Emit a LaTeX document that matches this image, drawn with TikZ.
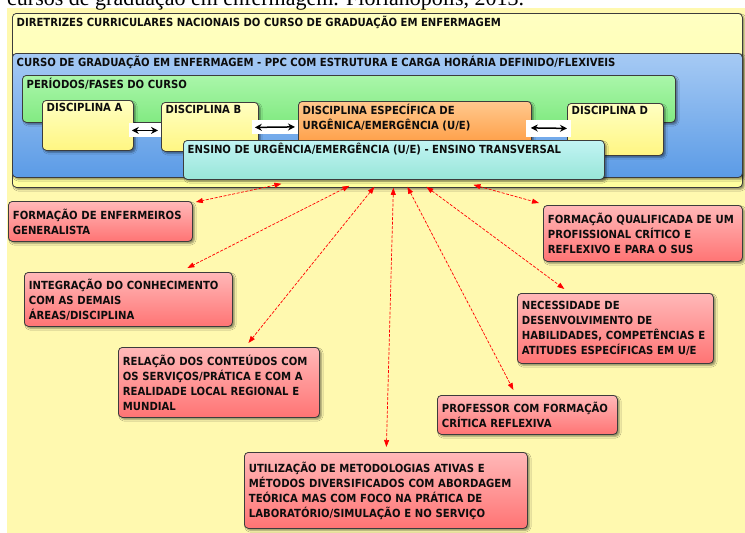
\documentclass[tikz,border=0pt]{standalone}
\usepackage{fontspec}
\usetikzlibrary{arrows.meta,shadows.blur}
\newfontfamily\boxfamily{DejaVu Sans}[FakeStretch=0.9]
\newfontfamily\capfamily{Liberation Serif}
\newcommand\boxfont{\boxfamily\bfseries\fontsize{11.2}{15}\selectfont}
\definecolor{bgyellow}{HTML}{FFF9AF}
\definecolor{boxline}{HTML}{3C3C3C}
\definecolor{dcntop}{HTML}{FFFFC2}
\definecolor{dcnbot}{HTML}{FFFF9E}
\definecolor{ppctop}{HTML}{A6CAF4}
\definecolor{ppcbot}{HTML}{5B9BE6}
\definecolor{fasetop}{HTML}{AAF6AA}
\definecolor{fasebot}{HTML}{82EA82}
\definecolor{disctop}{HTML}{FFFFC2}
\definecolor{discbot}{HTML}{FFF682}
\definecolor{uetop}{HTML}{FFC88E}
\definecolor{uebot}{HTML}{FF9B40}
\definecolor{enstop}{HTML}{C2F4F4}
\definecolor{ensbot}{HTML}{98E6D8}
\definecolor{redtop}{HTML}{FFB8B8}
\definecolor{redbot}{HTML}{FF7474}
\begin{document}
\begin{tikzpicture}[x=1pt, y=-1pt,
    panel/.style={draw=boxline, line width=0.8pt, rounded corners=4pt, anchor=north west, inner sep=0pt,
      blur shadow={shadow xshift=2pt, shadow yshift=-2pt, shadow blur steps=4, shadow opacity=45}},
    toptext/.style={font=\boxfont, text=black!95, anchor=north west, inner xsep=4.5pt, inner ysep=3pt, align=left},
    redbox/.style={panel, top color=redtop, bottom color=redbot, font=\boxfont, text=black!95,
      align=left, inner xsep=4.5pt},
    rlink/.style={red, line width=0.7pt, dash pattern=on 3pt off 1.5pt,
      {Triangle[length=7pt,width=5pt]}-{Triangle[length=7pt,width=5pt]}},
    twoway/.style={line width=1.5pt, {Stealth[length=7pt,width=7pt]}-{Stealth[length=7pt,width=7pt]}},
    wpad/.style={behind path, fill=white, inner sep=0pt, midway}]
  \useasboundingbox (0,0) rectangle (745,533);
  \fill[bgyellow] (7,8) rectangle (745,533);
  \node[anchor=base west, inner sep=0pt, font=\capfamily\fontsize{22}{22}\selectfont] (caption) at (7,5)
    {cursos de graduação em enfermagem. Florianópolis, 2013.};

  % caixas de contexto
  \node[panel, top color=dcntop, bottom color=dcnbot, minimum width=730pt, minimum height=174pt,
    label={[toptext]north west:DIRETRIZES CURRICULARES NACIONAIS DO CURSO DE GRADUAÇÃO EM ENFERMAGEM}] (dcn) at (12,13) {};
  \node[panel, top color=ppctop, bottom color=ppcbot, minimum width=730pt, minimum height=124pt,
    label={[toptext]north west:CURSO DE GRADUAÇÃO EM ENFERMAGEM - PPC COM ESTRUTURA E CARGA HORÁRIA DEFINIDO/FLEXIVEIS}] (ppc) at (12,53) {};
  \node[panel, top color=fasetop, bottom color=fasebot, minimum width=653pt, minimum height=47pt,
    label={[toptext]north west:PERÍODOS/FASES DO CURSO}] (fases) at (22,75) {};

  % disciplinas
  \node[panel, top color=disctop, bottom color=discbot, minimum width=91pt, minimum height=50pt,
    label={[toptext]north west:DISCIPLINA A}] (dA) at (42,100) {};
  \node[panel, top color=disctop, bottom color=discbot, minimum width=97pt, minimum height=49pt,
    label={[toptext]north west:DISCIPLINA B}] (dB) at (161,102) {};
  \node[panel, top color=uetop, bottom color=uebot, minimum width=233pt, minimum height=46pt,
    label={[toptext]north west:{DISCIPLINA ESPECÍFICA DE\\URGÊNICA/EMERGÊNCIA (U/E)}}] (dUE) at (298,101) {};
  \node[panel, top color=disctop, bottom color=discbot, minimum width=96pt, minimum height=52pt,
    label={[toptext]north west:DISCIPLINA D}] (dD) at (567,103) {};

  \draw[twoway] ([shift={(-2,5)}]dA.east) -- node[wpad, minimum width=32pt, minimum height=14pt] {} ([shift={(-3,3.5)}]dB.west);
  \draw[twoway] ([shift={(-4,0.5)}]dB.east) -- node[wpad, minimum width=46pt, minimum height=14pt] {} ([shift={(-3,2.5)}]dUE.west);
  \draw[twoway] ([shift={(-1,3.5)}]dUE.east) -- node[wpad, minimum width=45pt, minimum height=17pt] {} ([shift={(0,-1)}]dD.west);

  \node[panel, top color=enstop, bottom color=ensbot, minimum width=421pt, minimum height=39pt,
    label={[toptext]north west:ENSINO DE URGÊNCIA/EMERGÊNCIA (U/E) - ENSINO TRANSVERSAL}] (ensino) at (183,140) {};

  % caixas vermelhas
  \node[redbox, text width=175pt, minimum height=40pt] (gen) at (8,201)
    {FORMAÇÃO DE ENFERMEIROS\\GENERALISTA};
  \node[redbox, text width=199pt, minimum height=54pt] (integ) at (24,272)
    {INTEGRAÇÃO DO CONHECIMENTO\\COM AS DEMAIS\\ÁREAS/DISCIPLINA};
  \node[redbox, text width=192pt, minimum height=70pt] (rel) at (118,347)
    {RELAÇÃO DOS CONTEÚDOS COM\\OS SERVIÇOS/PRÁTICA E COM A\\REALIDADE LOCAL REGIONAL E\\MUNDIAL};
  \node[redbox, text width=274pt, minimum height=76pt] (util) at (244,452)
    {UTILIZAÇÃO DE METODOLOGIAS ATIVAS E\\MÉTODOS DIVERSIFICADOS COM ABORDAGEM\\TEÓRICA MAS COM FOCO NA PRÁTICA DE\\LABORATÓRIO/SIMULAÇÃO E NO SERVIÇO};
  \node[redbox, text width=171pt, minimum height=39pt] (prof) at (437,395)
    {PROFESSOR COM FORMAÇÃO\\CRÍTICA REFLEXIVA};
  \node[redbox, text width=187pt, minimum height=70pt] (nec) at (517,293)
    {NECESSIDADE DE\\DESENVOLVIMENTO DE\\HABILIDADES, COMPETÊNCIAS E\\ATITUDES ESPECÍFICAS EM U/E};
  \node[redbox, text width=190pt, minimum height=56pt] (qual) at (543,205)
    {FORMAÇÃO QUALIFICADA DE UM\\PROFISSIONAL CRÍTICO E\\REFLEXIVO E PARA O SUS};

  % ligacoes
  \draw[rlink] ([shift={(-112.5,4)}]ensino.south) -- ([shift={(3,1)}]gen.north east);
  \draw[rlink] ([shift={(-44.5,6)}]ensino.south) -- ([shift={(59,-4)}]integ.north);
  \draw[rlink] ([shift={(-19.5,7)}]ensino.south) -- ([shift={(29.5,-4)}]rel.north);
  \draw[rlink] ([shift={(-0.5,8)}]ensino.south) -- ([shift={(0.5,-5)}]util.north);
  \draw[rlink] ([shift={(13.5,7)}]ensino.south) -- ([shift={(-14,-5)}]prof.north);
  \draw[rlink] ([shift={(32.5,7)}]ensino.south) -- ([shift={(-51,-4)}]nec.north);
  \draw[rlink] ([shift={(79.5,5)}]ensino.south) -- ([shift={(-4,-2)}]qual.north west);
\end{tikzpicture}
\end{document}
